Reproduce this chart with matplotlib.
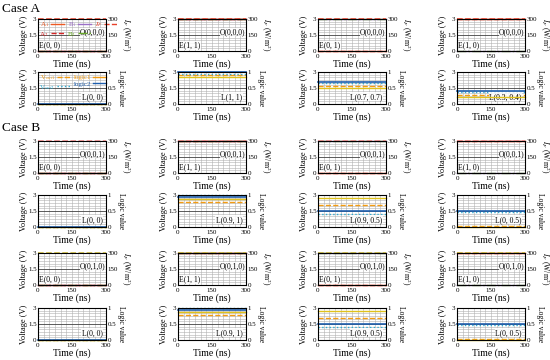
import matplotlib
matplotlib.use('Agg')
import matplotlib.pyplot as plt
from matplotlib.lines import Line2D

plt.rcParams['font.family'] = ['Liberation Serif', 'DejaVu Serif']
plt.rcParams['mathtext.fontset'] = 'stix'

# ---- data ----
time_ns = [0, 300]

e_labels = ['E(0, 0)', 'E(1, 1)', 'E(0, 1)', 'E(1, 0)']
a_inputs = [0, 1, 0, 1]
b_inputs = [0, 1, 1, 0]
o_labels = ['O(0,0,0)', 'O(0,0,1)', 'O(0,1,0)']
if_values = [300, 300, 300]

l_labels_a = ['L(0, 0)', 'L(1, 1)', 'L(0.7, 0.7)', 'L(0.3, 0.4)']
vout1_a = [0, 2.7, 1.69, 0.84]
logic1_a = [0, 0.83, 0.51, 0.23]
vout2_a = [0, 2.85, 1.95, 1.1]
logic2_a = [0, 1.0, 0.70, 0.40]

l_labels_b = ['L(0, 0)', 'L(0.9, 1)', 'L(0.9, 0.5)', 'L(0, 0.5)']
vout1_b = [0, 2.3, 2.1, 0.1]
logic1_b = [0, 0.87, 0.9, 0.0]
vout2_b = [0, 3.0, 1.2, 1.45]
logic2_b = [0, 0.94, 0.5, 0.5]

# ---- styles ----
C_A1, C_A2 = '#ee5a24', '#d62728'
C_B1, C_B2 = '#9b6fc7', '#6aaa2a'
C_IF = ['#e8402a', '#f08585', '#c9b52e']
C_V1, C_L1 = '#f39c12', '#e0c21c'
C_V2, C_L2 = '#2eaad1', '#1f5fae'

COL_LEFT = [38, 178, 318, 457]
ROW_TOP = [19, 72, 141, 195, 253, 308]
W, H = 68, 32
FW, FH = 550, 360
TICK_FS = 5
TEXT_FS = 5.5

fig = plt.figure(figsize=(5.5, 3.6), dpi=100)


def make_axes(row, col):
    l = COL_LEFT[col] / FW
    b = 1 - (ROW_TOP[row] + H) / FH
    ax = fig.add_axes([l, b, W / FW, H / FH])
    ax.set_xlim(0, 300)
    ax.set_ylim(0, 3)
    ax.set_xticks([0, 150, 300])
    ax.set_xticks(range(0, 301, 25), minor=True)
    ax.set_yticks([0, 1.5, 3])
    ax.set_yticklabels(['0', '1.5', '3'])
    ax.set_yticks([i * 0.25 for i in range(13)], minor=True)
    ax.grid(which='minor', color='#b0b0b0', lw=0.4)
    ax.grid(which='major', axis='y', color='#404040', lw=0.6)
    ax.grid(which='major', axis='x', color='#b0b0b0', lw=0.4)
    ax.set_axisbelow(True)
    ax.tick_params(which='both', direction='in', length=0, labelsize=TICK_FS)
    ax.tick_params(axis='y', pad=1)
    ax.tick_params(axis='x', pad=2.5)
    ax.set_xlabel('Time (ns)', fontsize=7, labelpad=0)
    ax.set_ylabel('Voltage (V)', fontsize=6, labelpad=0)
    for s in ax.spines.values():
        s.set_linewidth(0.6)
    ax2 = ax.twinx()
    ax2.tick_params(direction='in', length=0, labelsize=TICK_FS, pad=1)
    return ax, ax2


def draw_e(row, col, case_idx, legend=False):
    ax, ax2 = make_axes(row, col)
    a = a_inputs[col] * 3
    b = b_inputs[col] * 3
    ax.plot(time_ns, [a, a], color=C_A1, lw=1.0, clip_on=False)
    ax.plot(time_ns, [a, a], color=C_A2, lw=1.0, ls='--', clip_on=False)
    ax.plot(time_ns, [b, b], color=C_B1, lw=1.0, clip_on=False)
    ax.plot(time_ns, [b, b], color=C_B2, lw=1.0, ls='-.', clip_on=False)
    ax2.set_ylim(0, 300)
    ax2.set_yticks([0, 150, 300])
    ax2.plot(time_ns, [if_values[case_idx]] * 2, color=C_IF[case_idx], lw=1.1,
             ls='--', clip_on=False)
    ax2.set_ylabel(r'$I_F$ (W/m$^2$)', fontsize=5.5, rotation=270, va='bottom',
                   labelpad=1)
    ax.text(6, 0.55, e_labels[col], fontsize=TEXT_FS, va='center',
            bbox=dict(facecolor='white', edgecolor='none', pad=0.3, alpha=0.85))
    ax.text(298, 1.78, o_labels[case_idx], fontsize=TEXT_FS, va='center', ha='right',
            bbox=dict(facecolor='white', edgecolor='none', pad=0.3, alpha=0.85))
    if legend:
        hs = [Line2D([], [], color=C_A1, lw=1.0, label=r'A$_1$'),
              Line2D([], [], color=C_A2, lw=1.0, ls='--', label=r'A$_2$'),
              Line2D([], [], color=C_B1, lw=1.0, label=r'B$_1$'),
              Line2D([], [], color=C_B2, lw=1.0, ls='-.', label=r'B$_2$'),
              Line2D([], [], color=C_IF[0], lw=1.0, ls='--', label=r'$I_F$')]
        ax.legend(handles=hs, ncol=3, loc='upper left', frameon=False,
                  markerfirst=False, fontsize=5, handlelength=1.9,
                  columnspacing=0.5, labelspacing=0.05, borderpad=0.1,
                  handletextpad=0.25, labelcolor='linecolor',
                  borderaxespad=0.1)


def draw_l(row, col, label, v1, l1, v2, l2, legend=False):
    ax, ax2 = make_axes(row, col)
    ax2.set_ylim(0, 1)
    ax2.set_yticks([0, 0.5, 1])
    ax2.set_yticklabels(['0', '0.5', '1'])
    ax.plot(time_ns, [v1, v1], color=C_V1, lw=1.0, ls='--', clip_on=False)
    ax2.plot(time_ns, [l1, l1], color=C_L1, lw=1.0, clip_on=False)
    ax.plot(time_ns, [v2, v2], color=C_V2, lw=1.0, ls=':', clip_on=False)
    ax2.plot(time_ns, [l2, l2], color=C_L2, lw=1.2, clip_on=False)
    ax2.set_ylabel('Logic value', fontsize=5.5, rotation=270, va='bottom',
                   labelpad=1)
    ax.text(285, 0.68, label, fontsize=TEXT_FS, va='center', ha='right',
            bbox=dict(facecolor='white', edgecolor='none', pad=0.3, alpha=0.85))
    if legend:
        hs = [Line2D([], [], color=C_V1, lw=1.0, ls='--', label=r'V$_{out1}$'),
              Line2D([], [], color=C_V2, lw=1.0, ls=':', label=r'V$_{out2}$'),
              Line2D([], [], color=C_V1, lw=1.0, label='logic1'),
              Line2D([], [], color=C_L2, lw=1.0, label='logic2')]
        ax.legend(handles=hs, ncol=2, loc='upper left', frameon=False,
                  markerfirst=False, fontsize=5, handlelength=1.9,
                  columnspacing=0.5, labelspacing=0.05, borderpad=0.1,
                  handletextpad=0.25, labelcolor='linecolor',
                  borderaxespad=0.1)


for c in range(4):
    draw_e(0, c, 0, legend=(c == 0))
    draw_l(1, c, l_labels_a[c], vout1_a[c], logic1_a[c], vout2_a[c], logic2_a[c],
           legend=(c == 0))
    draw_e(2, c, 1)
    draw_l(3, c, l_labels_b[c], vout1_b[c], logic1_b[c], vout2_b[c], logic2_b[c])
    draw_e(4, c, 2)
    draw_l(5, c, l_labels_b[c], vout1_b[c], logic1_b[c], vout2_b[c], logic2_b[c])

fig.text(0.004, 1 - 9 / FH, 'Case A', fontsize=9.5, va='center')
fig.text(0.004, 1 - 128 / FH, 'Case B', fontsize=9.5, va='center')

fig.savefig('out.png', dpi=100)
